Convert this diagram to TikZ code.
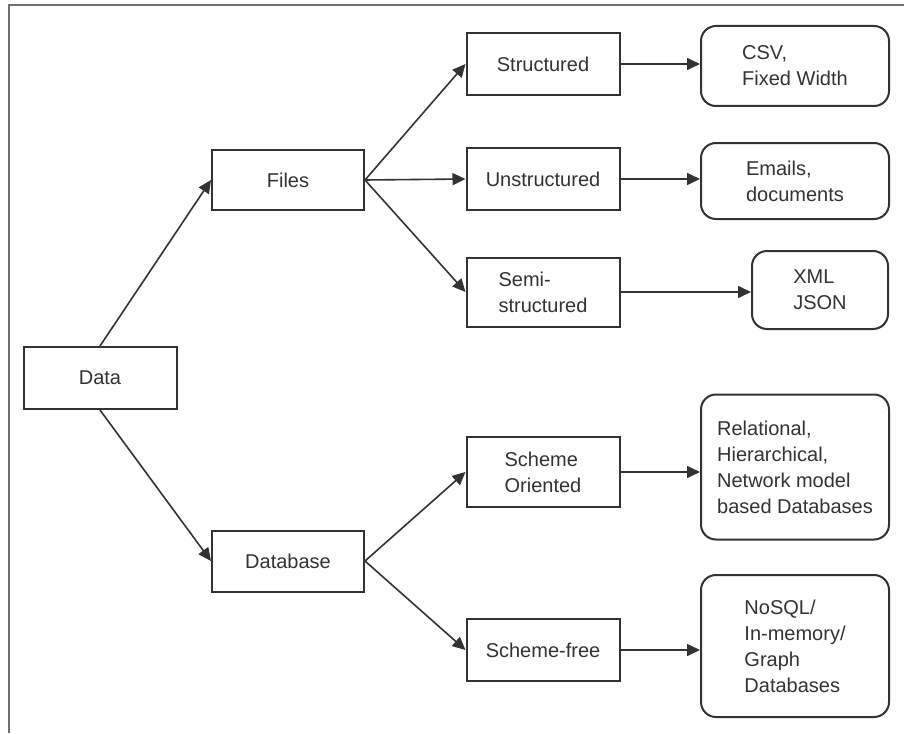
\documentclass[tikz,border=0pt]{standalone}
\usepackage{fontspec}
\setmainfont{Liberation Sans}
\usetikzlibrary{arrows.meta}
\definecolor{ink}{HTML}{333333}
\definecolor{framegray}{HTML}{707070}
\begin{document}
\begin{tikzpicture}[x=1pt,y=-1pt,
  every node/.style={font=\fontsize{20}{26}\selectfont, text=ink},
  sqbox/.style={draw=ink, line width=2pt, rectangle, inner sep=0pt,
    minimum width=153pt, minimum height=62pt, align=left},
  rbox/.style={draw=ink, line width=2pt, rectangle, rounded corners=15pt,
    inner sep=0pt, minimum width=188pt, align=left},
  link/.style={draw=ink, line width=1.6pt,
    -{Triangle[length=13pt,width=12pt]}}
]
\useasboundingbox (0,0) rectangle (904,733);
\fill[white] (0,0) rectangle (904,733);

% page frame (top and left edges)
\draw[framegray, line width=2pt] (8.5,733) -- (8.5,5) -- (904,5);

% level 0 and 1
\node[sqbox] (data) at (100,378) {Data};
\node[sqbox, minimum width=152pt, minimum height=60pt] (files) at (288,180) {Files};
\node[sqbox, minimum width=152pt, minimum height=61pt] (database) at (288,561) {Database};

% level 2
\node[sqbox] (structured) at (543,64) {Structured};
\node[sqbox] (unstructured) at (543,179) {Unstructured};
\node[sqbox, minimum height=69pt] (semi) at (543,292) {Semi-\\structured};
\node[sqbox, minimum height=70pt] (schemeo) at (543,472) {Scheme\\Oriented};
\node[sqbox] (schemef) at (543,650) {Scheme-free};

% level 3
\node[rbox, minimum height=80pt] (csv) at (795,66) {CSV,\\Fixed Width};
\node[rbox, minimum height=76pt] (emails) at (795,181) {Emails,\\documents};
\node[rbox, minimum width=136pt, minimum height=78pt] (xml) at (820,290) {XML\\JSON};
\node[rbox, minimum height=145pt] (relational) at (795,467)
  {Relational,\\Hierarchical,\\Network model\\based Databases};
\node[rbox, minimum height=142pt] (nosql) at (795,646)
  {NoSQL/\\In-memory/\\Graph\\Databases};

% connectors
\draw[link] (data.north) -- (files.west);
\draw[link] (data.south) -- (database.west);

\draw[link] (files.east) -- (structured.west);
\draw[link] (files.east) -- (unstructured.west);
\draw[link] (files.east) -- (semi.west);

\draw[link] (database.east) -- (schemeo.west);
\draw[link] (database.east) -- (schemef.west);

\draw[link] (structured.east) -- (structured.east -| csv.west);
\draw[link] (unstructured.east) -- (unstructured.east -| emails.west);
\draw[link] (semi.east) -- (semi.east -| xml.west);
\draw[link] (schemeo.east) -- (schemeo.east -| relational.west);
\draw[link] (schemef.east) -- (schemef.east -| nosql.west);
\end{tikzpicture}
\end{document}
